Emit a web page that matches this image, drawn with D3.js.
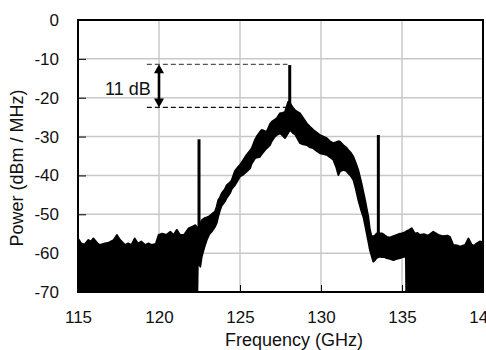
<!DOCTYPE html>
<html>
<head>
<meta charset="utf-8">
<script src="https://cdn.jsdelivr.net/npm/d3@7"></script>
<style>
  body { margin: 0; background: #fff; }
  svg { display: block; font-family: "Liberation Sans", Arial, sans-serif; }
</style>
</head>
<body>
<svg id="chart" width="486" height="350"></svg>
<script>
const freq = [
  115.0, 115.2, 115.4, 115.64, 115.8, 115.95, 116.2, 116.36, 116.67, 116.9,
  117.2, 117.4, 117.6, 117.9, 118.1, 118.3, 118.5, 118.7, 118.9, 119.15,
  119.35, 119.56, 119.8, 119.98, 120.2, 120.45, 120.7, 120.9, 121.1, 121.3,
  121.55, 121.83, 122.04, 122.25, 122.37,
  122.40, 122.55, 122.64, 122.8, 122.95, 123.1, 123.25, 123.46, 123.56, 123.66,
  123.77, 123.87, 124.07, 124.18, 124.38, 124.49, 124.69, 124.85, 125.0, 125.2,
  125.41, 125.62, 125.72, 125.93, 126.03, 126.23, 126.34, 126.54, 126.65, 126.85,
  126.96, 127.16, 127.27, 127.47, 127.57, 127.78, 127.98, 128.09, 128.29, 128.4,
  128.7, 128.9, 129.12, 129.33, 129.53, 129.75, 129.94, 130.15, 130.35, 130.55,
  130.76, 130.95, 131.07, 131.17, 131.38, 131.55, 131.69, 131.85, 132.0, 132.15,
  132.3, 132.5, 132.61, 132.72, 132.82, 132.92, 133.02, 133.13, 133.23, 133.33,
  133.44, 133.64, 133.75, 133.9, 134.06, 134.25, 134.47, 134.68, 134.88, 134.99,
  135.19, 135.24,
  135.26, 135.45, 135.6, 135.8, 135.95, 136.1, 136.35, 136.6, 136.93, 137.24,
  137.5, 137.8, 137.96, 138.17, 138.4, 138.58, 138.9, 139.1, 139.3, 139.45,
  139.6, 139.8, 140.0
];
const upper = [
  -56.2, -57.5, -57.8, -56.6, -57.0, -56.2, -57.5, -57.9, -57.5, -57.3,
  -56.6, -55.3, -56.6, -57.9, -57.5, -57.9, -56.2, -57.5, -57.0, -57.9,
  -57.5, -57.9, -57.6, -55.3, -55.0, -55.3, -54.5, -55.3, -54.0, -55.3,
  -55.3, -53.6, -53.2, -52.8, -53.5,
  -53.6, -52.5, -51.5, -51.0, -50.8, -50.5, -50.0, -49.3, -48.0, -46.3,
  -45.6, -44.6, -43.5, -42.5, -41.8, -41.2, -38.8, -38.0, -37.3, -36.0,
  -34.7, -33.6, -33.0, -30.8, -30.0, -28.8, -28.3, -28.6, -28.7, -26.8,
  -26.2, -25.6, -25.3, -24.0, -24.0, -23.6, -21.0, -21.4, -22.7, -23.2,
  -24.0, -25.2, -26.6, -27.5, -28.3, -29.0, -29.6, -30.0, -30.4, -31.2,
  -31.7, -31.4, -31.2, -31.3, -32.2, -32.8, -33.5, -34.2, -35.2, -36.8,
  -38.6, -42.0, -44.2, -46.3, -48.5, -50.6, -54.0, -55.8, -55.6, -55.5,
  -54.9, -54.9, -54.9, -55.3, -55.8, -56.0, -55.6, -55.3, -55.0, -54.9,
  -54.6, -54.5,
  -54.4, -54.0, -53.6, -55.0, -54.8, -55.3, -55.1, -55.5, -54.5, -55.3,
  -55.6, -55.5, -55.8, -57.9, -58.0, -58.3, -57.9, -56.2, -57.8, -58.1,
  -57.5, -57.0, -57.2
];
const lower = [
  -70, -70, -70, -70, -70, -70, -70, -70, -70, -70,
  -70, -70, -70, -70, -70, -70, -70, -70, -70, -70,
  -70, -70, -70, -70, -70, -70, -70, -70, -70, -70,
  -70, -70, -70, -70, -70,
  -62.0, -63.5, -60.9, -58.5, -56.6, -55.2, -54.5, -53.2, -52.3, -50.5,
  -48.9, -47.8, -46.7, -45.8, -44.6, -43.5, -42.5, -41.4, -40.3, -39.8,
  -39.0, -38.2, -37.0, -35.6, -35.4, -35.2, -34.5, -33.5, -33.0, -32.2,
  -31.2, -30.0, -29.6, -29.2, -29.5, -30.4, -29.0, -28.3, -29.2, -29.4,
  -31.7, -32.0, -32.2, -32.8, -33.0, -33.8, -34.3, -34.5, -34.7, -35.3,
  -36.0, -38.0, -39.9, -39.0, -38.6, -38.8, -39.5, -40.2, -41.2, -43.5,
  -46.3, -49.3, -50.6, -52.8, -54.9, -57.0, -59.2, -60.8, -62.2, -61.8,
  -61.2, -60.9, -61.0, -61.0, -61.3, -61.5, -61.8, -61.5, -61.3, -61.1,
  -60.9, -61.0,
  -70, -70, -70, -70, -70, -70, -70, -70, -70, -70,
  -70, -70, -70, -70, -70, -70, -70, -70, -70, -70,
  -70, -70, -70
];

// narrow tones
const spikeFreq = [122.47, 128.07, 133.54];
const spikeTop = [-30.7, -11.6, -29.6];
const spikeBase = [-56, -25, -58];

// 11 dB marker
const markLevels = [-11.4, -22.5];
const markFrom = 119.25, markTo = 127.93, markArrowAt = 120.0;
const markLabel = "11 dB";

const xTicks = [115, 120, 125, 130, 135, 140];
const yTicks = [0, -10, -20, -30, -40, -50, -60, -70];

const svg = d3.select("#chart");
const plotL = 78, plotR = 483, plotT = 20, plotB = 292;

const x = d3.scaleLinear().domain([115, 140]).range([plotL, plotR]);
const y = d3.scaleLinear().domain([-70, 0]).range([plotB, plotT]);

// grid
const grid = svg.append("g").attr("stroke", "#c8c8c8").attr("stroke-width", 1.5);
grid.selectAll("line.v").data(xTicks.slice(1, -1)).join("line").attr("class", "v")
  .attr("x1", d => x(d)).attr("x2", d => x(d)).attr("y1", plotT).attr("y2", plotB);
grid.selectAll("line.h").data(yTicks.slice(1, -1)).join("line").attr("class", "h")
  .attr("x1", plotL).attr("x2", plotR).attr("y1", d => y(d)).attr("y2", d => y(d));

svg.append("clipPath").attr("id", "plot")
  .append("rect").attr("x", plotL).attr("y", plotT).attr("width", plotR - plotL).attr("height", plotB - plotT);

const pts = freq.map((f, i) => ({ f, hi: upper[i], lo: lower[i] }));
const area = d3.area().x(d => x(d.f)).y0(d => y(d.lo)).y1(d => y(d.hi));

svg.append("path").datum(pts)
  .attr("clip-path", "url(#plot)")
  .attr("d", area)
  .attr("fill", "#000").attr("stroke", "#000").attr("stroke-width", 1.8)
  .attr("stroke-linejoin", "round");

svg.append("g").selectAll("line").data(spikeFreq).join("line")
  .attr("x1", d => x(d)).attr("x2", d => x(d))
  .attr("y1", (d, i) => y(spikeBase[i])).attr("y2", (d, i) => y(spikeTop[i]))
  .attr("stroke", "#000").attr("stroke-width", 3);

// axes with inward ticks, plain hyphen minus like the original
const fmt = d => String(d);
const yAxis = svg.append("g").attr("transform", `translate(${plotL},0)`)
  .call(d3.axisLeft(y).tickValues(yTicks).tickFormat(fmt).tickSize(-8).tickPadding(19));
const xAxis = svg.append("g").attr("transform", `translate(0,${plotB})`)
  .call(d3.axisBottom(x).tickValues(xTicks).tickFormat(fmt).tickSize(-7).tickPadding(19));
[yAxis, xAxis].forEach(a => {
  a.select(".domain").remove();
  a.selectAll("line").attr("stroke", "#000").attr("stroke-width", 1);
  a.selectAll("text").attr("fill", "#111").style("font-size", "17px")
    .style("font-family", "'Liberation Sans', Arial, sans-serif");
});

svg.append("rect").attr("x", plotL).attr("y", plotT)
  .attr("width", plotR - plotL).attr("height", plotB - plotT)
  .attr("fill", "none").attr("stroke", "#000").attr("stroke-width", 2);

// annotation
svg.append("g").selectAll("line").data(markLevels).join("line")
  .attr("x1", x(markFrom)).attr("x2", x(markTo))
  .attr("y1", d => y(d)).attr("y2", d => y(d))
  .attr("stroke", (d, i) => i === 0 ? "#555" : "#111")
  .attr("stroke-width", 1.3).attr("stroke-dasharray", "5,3");

const ax = x(markArrowAt), ya = y(markLevels[0]), yb = y(markLevels[1]);
svg.append("line").attr("x1", ax).attr("x2", ax).attr("y1", ya + 6).attr("y2", yb - 6)
  .attr("stroke", "#000").attr("stroke-width", 2.6);
svg.append("path")
  .attr("d", `M${ax},${ya} L${ax - 5},${ya + 9} L${ax + 5},${ya + 9} Z M${ax},${yb} L${ax - 5},${yb - 9} L${ax + 5},${yb - 9} Z`)
  .attr("fill", "#000");
svg.append("text").attr("x", x(119.49)).attr("y", y(-17.8)).attr("dy", "0.35em")
  .attr("text-anchor", "end").style("font-size", "18px").attr("fill", "#111")
  .text(markLabel);

// titles
svg.append("text").attr("x", 294).attr("y", 346).attr("text-anchor", "middle")
  .style("font-size", "18px").attr("fill", "#111").text("Frequency (GHz)");
svg.append("text").attr("transform", "translate(23,168) rotate(-90)")
  .attr("text-anchor", "middle").style("font-size", "18px").attr("fill", "#111")
  .text("Power (dBm / MHz)");
</script>
</body>
</html>
